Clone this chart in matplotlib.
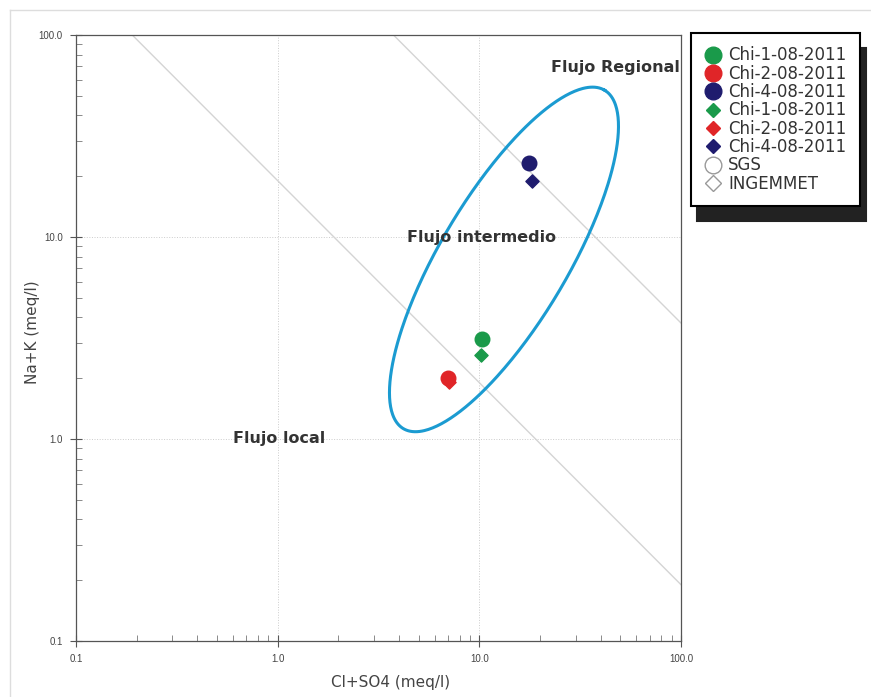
import numpy as np
import matplotlib.pyplot as plt
from matplotlib.lines import Line2D
from matplotlib.ticker import FixedLocator, LogLocator, NullFormatter

plt.rcParams['font.family'] = ['Liberation Sans', 'DejaVu Sans']

# muestras (Cl+SO4, Na+K) en meq/l
labels = ["Chi-1-08-2011", "Chi-2-08-2011", "Chi-4-08-2011"]
colors = ["#1a9a4a", "#e02528", "#1f1c6e"]
sgs_x = [10.3, 7.0, 17.6]
sgs_y = [3.13, 2.0, 23.2]
ing_x = [10.2, 7.05, 18.2]
ing_y = [2.6, 1.92, 18.9]

# lineas de separacion x*y = cte
div_consts = [19.0, 375.0]

# elipse en espacio log10
ell_center = (1.122, 0.889)
ell_axes = (0.975, 0.315)
ell_angle = 59.2

fig = plt.figure(figsize=(8.71, 6.97), dpi=100)
ax = fig.add_axes([0.0873, 0.0803, 0.6946, 0.8695])
ax.set_xscale('log')
ax.set_yscale('log')
ax.set_xlim(0.1, 100)
ax.set_ylim(0.1, 100)

for v in [1.0, 10.0]:
    ax.axvline(v, color='#cccccc', lw=0.7, ls=':', zorder=0)
    ax.axhline(v, color='#cccccc', lw=0.7, ls=':', zorder=0)

xs = np.logspace(-1, 2, 200)
for c in div_consts:
    ax.plot(xs, c / xs, color='#d4d4d4', lw=1.0, zorder=1)

t = np.linspace(0, 2 * np.pi, 400)
th = np.radians(ell_angle)
a, b = ell_axes
lx = ell_center[0] + a * np.cos(th) * np.cos(t) - b * np.sin(th) * np.sin(t)
ly = ell_center[1] + a * np.sin(th) * np.cos(t) + b * np.cos(th) * np.sin(t)
ax.plot(10 ** lx, 10 ** ly, color='#1b9bd1', lw=2.2, zorder=2)

for i in range(3):
    ax.scatter(ing_x[i], ing_y[i], marker='D', s=45, color=colors[i], zorder=3)
    ax.scatter(sgs_x[i], sgs_y[i], marker='o', s=110, color=colors[i], zorder=4)

txt = dict(fontsize=11.5, fontweight='bold', color='#333333', zorder=5,
           family='DejaVu Sans', va='center')
ax.text(0.6, 1.01, "Flujo local", **txt)
ax.text(4.38, 10.0, "Flujo intermedio", **txt)
ax.text(22.6, 68.7, "Flujo Regional", **txt)

ticks = [0.1, 1.0, 10.0, 100.0]
tick_labels = ["0.1", "1.0", "10.0", "100.0"]
for axis in [ax.xaxis, ax.yaxis]:
    axis.set_major_locator(FixedLocator(ticks))
    axis.set_minor_locator(LogLocator(base=10, subs=np.arange(2, 10)))
    axis.set_minor_formatter(NullFormatter())
ax.set_xticklabels(tick_labels)
ax.set_yticklabels(tick_labels)
ax.tick_params(which='major', direction='inout', length=9, width=0.8,
               color='#555555', labelsize=7, labelcolor='#444444', pad=5)
ax.tick_params(which='minor', direction='in', length=4, width=0.6, color='#777777')
for s in ax.spines.values():
    s.set_color('#555555')
    s.set_linewidth(0.9)

ax.set_xlabel("Cl+SO4 (meq/l)", fontsize=11, color='#444444', family='DejaVu Sans')
ax.set_ylabel("Na+K (meq/l)", fontsize=11, color='#444444', family='DejaVu Sans')
ax.xaxis.set_label_coords(0.52, -0.056)
ax.yaxis.set_label_coords(-0.06, 0.51)

handles = []
for i in range(3):
    handles.append(Line2D([], [], ls='', marker='o', ms=12, color=colors[i]))
for i in range(3):
    handles.append(Line2D([], [], ls='', marker='D', ms=7, color=colors[i]))
handles.append(Line2D([], [], ls='', marker='o', ms=12, mfc='white', mec='#999999'))
handles.append(Line2D([], [], ls='', marker='D', ms=8, mfc='white', mec='#999999'))
leg_labels = labels + labels + ["SGS", "INGEMMET"]
leg = fig.legend(handles, leg_labels, loc='upper left',
                 bbox_to_anchor=(691 / 871, 1 - 33 / 697),
                 prop={'family': 'DejaVu Sans', 'size': 12},
                 labelspacing=0.02, handletextpad=0.44,
                 handlelength=1.0, borderpad=0.8, borderaxespad=0,
                 fancybox=False, framealpha=1, edgecolor='black',
                 shadow={'ox': 4.5, 'oy': -11, 'color': '#222222', 'alpha': 1})
leg.get_frame().set_linewidth(1.5)
for tx in leg.get_texts():
    tx.set_color('#333333')

fig.add_artist(Line2D([10 / 871, 10 / 871], [0, 1 - 10 / 697], color='#dddddd', lw=1))
fig.add_artist(Line2D([10 / 871, 1], [1 - 10 / 697, 1 - 10 / 697], color='#dddddd', lw=1))

fig.savefig('out.png', dpi=100)
